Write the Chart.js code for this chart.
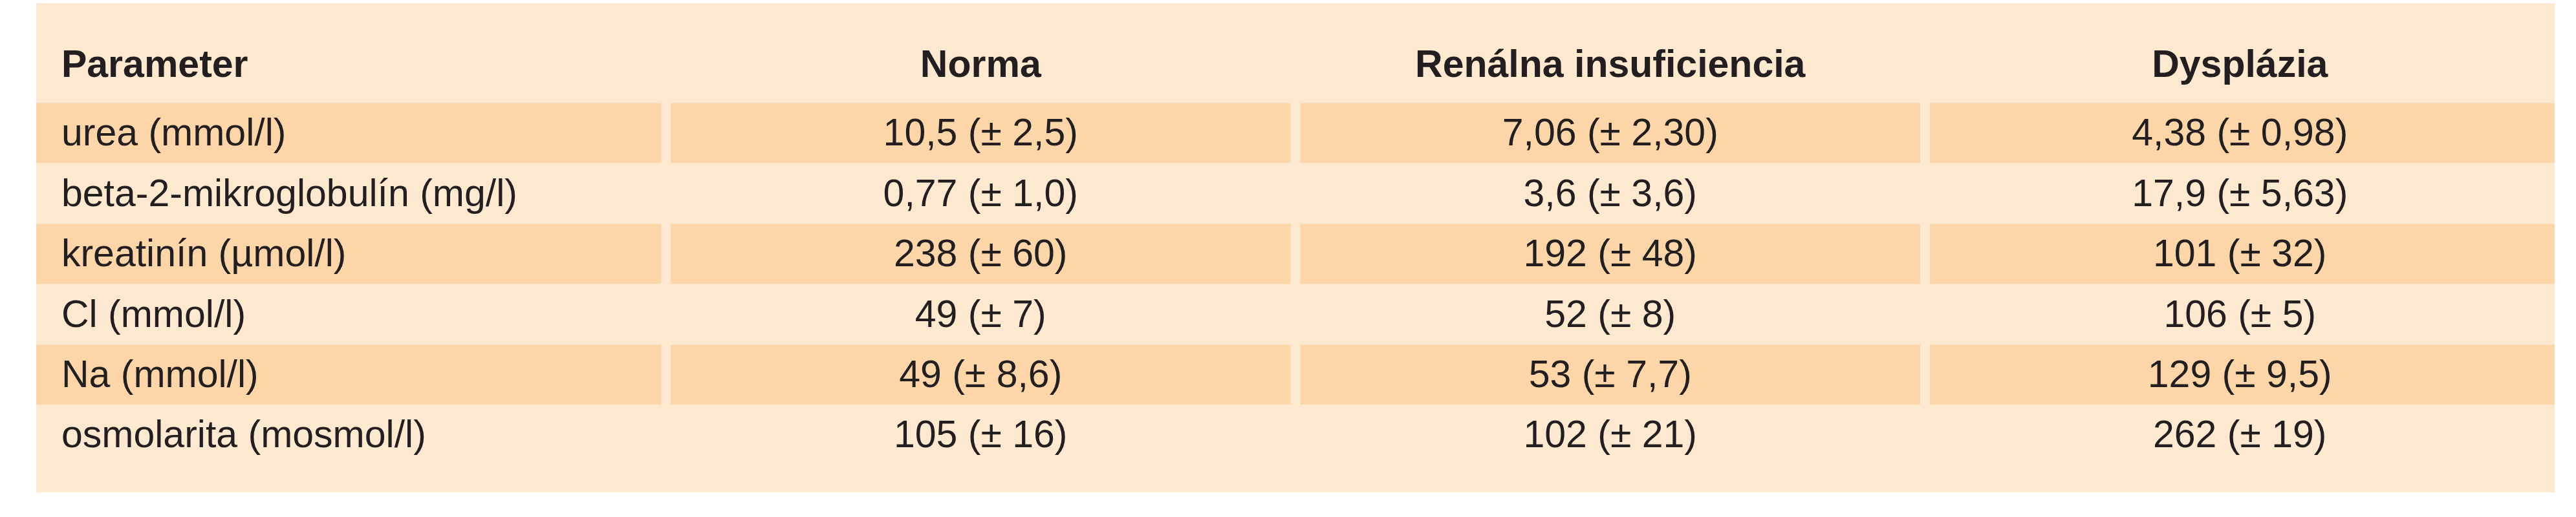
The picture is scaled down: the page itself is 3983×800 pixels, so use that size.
<!DOCTYPE html>
<html><head><meta charset="utf-8">
<script src="https://cdn.jsdelivr.net/npm/chart.js@4"></script>
<style>html,body{margin:0;padding:0;background:#fff}#w{width:3983px;height:800px}</style>
</head><body><div id="w"><canvas id="c"></canvas></div>
<script>
const headers = ["Parameter", "Norma", "Renálna insuficiencia", "Dysplázia"];
const parameters = ["urea (mmol/l)", "beta-2-mikroglobulín (mg/l)", "kreatinín (µmol/l)", "Cl (mmol/l)", "Na (mmol/l)", "osmolarita (mosmol/l)"];
const norma = ["10,5 (± 2,5)", "0,77 (± 1,0)", "238 (± 60)", "49 (± 7)", "49 (± 8,6)", "105 (± 16)"];
const renalna = ["7,06 (± 2,30)", "3,6 (± 3,6)", "192 (± 48)", "52 (± 8)", "53 (± 7,7)", "102 (± 21)"];
const dysplazia = ["4,38 (± 0,98)", "17,9 (± 5,63)", "101 (± 32)", "106 (± 5)", "129 (± 9,5)", "262 (± 19)"];
const shadedRows = [0, 2, 4];

const LIGHT = 'rgb(253,232,208)', DARK = 'rgb(252,213,168)', INK = '#231f20';
const G = 0.008;
const columns = [parameters, norma, renalna, dysplazia];
const datasets = columns.map((col, c) => ({
  data: shadedRows.map(r => ({ y: r, x: [c + (c ? G : 0), c + 1 - (c < 3 ? G : 0)] })),
  backgroundColor: DARK, borderWidth: 0, barThickness: 92, grouped: false
}));

const textPlugin = {
  id: 'tbl',
  beforeDraw(chart) {
    const { ctx, chartArea: a } = chart;
    ctx.save(); ctx.fillStyle = LIGHT;
    ctx.fillRect(a.left, a.top, a.right - a.left, a.bottom - a.top);
    ctx.restore();
  },
  afterDatasetsDraw(chart) {
    const { ctx } = chart, xs = chart.scales.x, ys = chart.scales.y;
    ctx.save(); ctx.fillStyle = INK; ctx.textBaseline = 'middle';
    const hy = ys.getPixelForValue(-1.1);
    ctx.font = 'bold 59px "Liberation Sans", Arial, sans-serif';
    headers.forEach((h, c) => {
      if (c === 0) { ctx.textAlign = 'left'; ctx.fillText(h, xs.getPixelForValue(0.04), hy); }
      else { ctx.textAlign = 'center'; ctx.fillText(h, xs.getPixelForValue(c + 0.5), hy); }
    });
    ctx.font = '59px "Liberation Sans", Arial, sans-serif';
    columns.forEach((col, c) => col.forEach((t, r) => {
      const y = ys.getPixelForValue(r) + 3;
      if (c === 0) { ctx.textAlign = 'left'; ctx.fillText(t, xs.getPixelForValue(0.04), y); }
      else { ctx.textAlign = 'center'; ctx.fillText(t, xs.getPixelForValue(c + 0.5), y); }
    }));
    ctx.restore();
  }
};

new Chart(document.getElementById('c'), {
  type: 'bar',
  data: { datasets },
  options: {
    indexAxis: 'y', responsive: true, maintainAspectRatio: false, animation: false,
    layout: { padding: { left: 56, right: 33, top: 5, bottom: 38 } },
    plugins: { legend: { display: false }, tooltip: { enabled: false } },
    scales: {
      x: { type: 'linear', min: 0, max: 4, display: false },
      y: { type: 'linear', min: -1.7, max: 5.5, reverse: true, display: false }
    }
  },
  plugins: [textPlugin]
});
</script></body></html>
